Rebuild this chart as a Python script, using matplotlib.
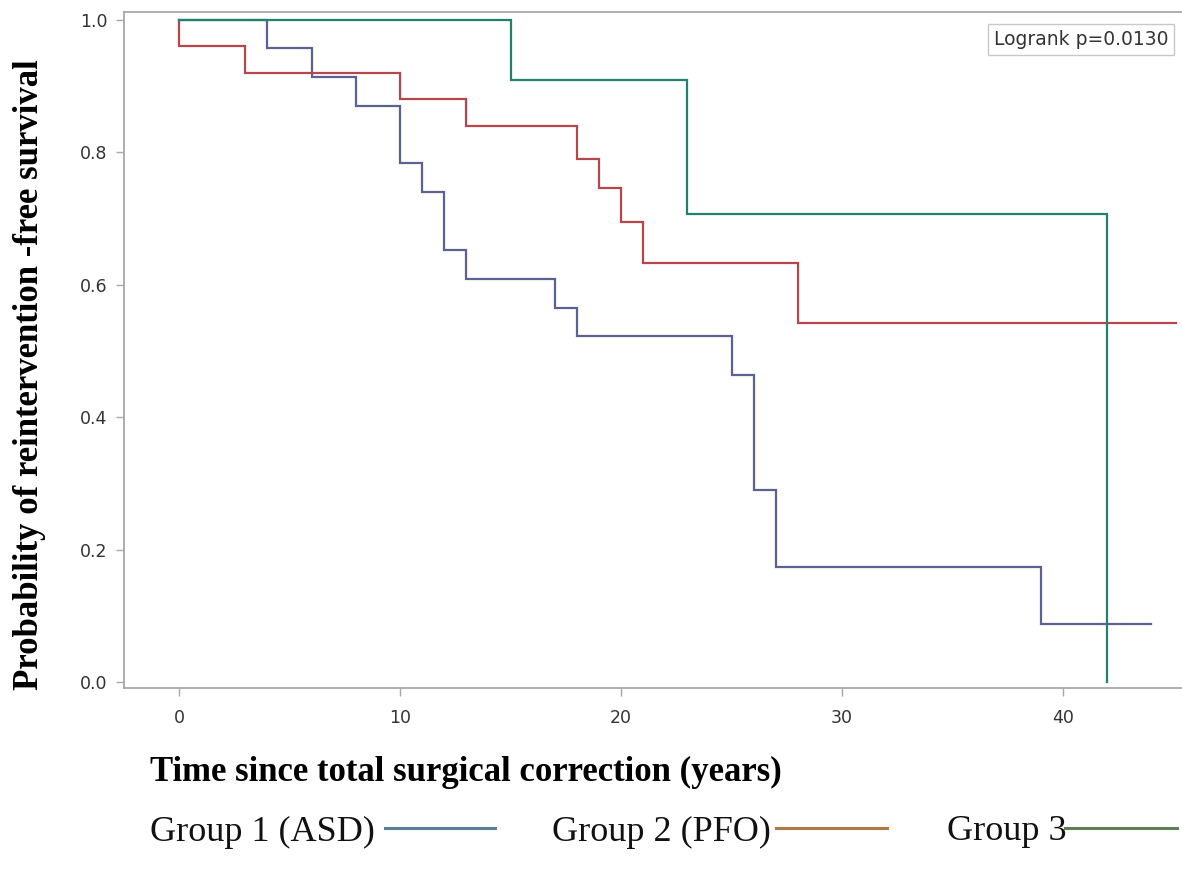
import matplotlib
matplotlib.use("Agg")
import matplotlib.pyplot as plt
from matplotlib.lines import Line2D

# Kaplan-Meier step data (time in years, survival probability)
g1_time = [0, 4, 6, 8, 10, 11, 12, 13, 17, 18, 25, 26, 27, 39, 44]
g1_surv = [1.0, 0.957, 0.913, 0.870, 0.783, 0.739, 0.652, 0.609, 0.565, 0.522, 0.463, 0.290, 0.174, 0.087, 0.087]

g2_time = [0, 0, 3, 10, 13, 18, 19, 20, 21, 28, 45.1]
g2_surv = [1.0, 0.96, 0.92, 0.88, 0.84, 0.79, 0.745, 0.695, 0.632, 0.542, 0.542]

g3_time = [0, 15, 23, 42, 42]
g3_surv = [1.0, 0.909, 0.707, 0.0, 0.0]

x_ticks = [0, 10, 20, 30, 40]
y_ticks = [0.0, 0.2, 0.4, 0.6, 0.8, 1.0]
y_ticklabels = ["0.0", "0.2", "0.4", "0.6", "0.8", "1.0"]

legend_labels = ["Group 1 (ASD)", "Group 2 (PFO)", "Group 3"]
curve_colors = ["#5b6190", "#b5474c", "#23826f"]
legend_line_colors = ["#5f7c98", "#b27a42", "#5c8052"]

fig = plt.figure(figsize=(11.82, 8.76), dpi=100)
ax = fig.add_axes([124 / 1182, 1 - 688 / 876, (1182 - 124) / 1182, (688 - 11.7) / 876])

for t, s, c in zip([g1_time, g2_time, g3_time], [g1_surv, g2_surv, g3_surv], curve_colors):
    ax.step(t, s, where="post", color=c, lw=1.6, solid_joinstyle="miter")

ax.set_xlim(-2.49, 45.38)
ax.set_ylim(-0.009, 1.0118)
ax.set_xticks(x_ticks)
ax.set_yticks(y_ticks)
ax.set_yticklabels(y_ticklabels)

spine_col = "#a8a8a8"
for side in ["left", "bottom", "top"]:
    ax.spines[side].set_color(spine_col)
    ax.spines[side].set_linewidth(1.3)
ax.spines["right"].set_visible(False)

ax.tick_params(axis="both", colors=spine_col, length=6, width=1.0,
               labelcolor="#333333", labelsize=12.5)
ax.tick_params(axis="y", pad=6)
ax.tick_params(axis="x", pad=9)
for lab in ax.get_xticklabels() + ax.get_yticklabels():
    lab.set_fontfamily("DejaVu Sans")

ax.text(0.987, 0.973, "Logrank p=0.0130", transform=ax.transAxes,
        ha="right", va="top", fontsize=13.5, color="#333333", family="DejaVu Sans",
        bbox=dict(boxstyle="square,pad=0.3", fc="white", ec="#c8c8c8", lw=1.0))

fig.text(150 / 1182, 1 - 772 / 876, "Time since total surgical correction (years)",
         ha="left", va="center", fontsize=25, fontweight="bold", family="Liberation Serif")
fig.text(30 / 1182, 1 - 375 / 876, "Probability of reintervention -free survival",
         ha="center", va="center", rotation=90, fontsize=25, fontweight="bold",
         family="Liberation Serif")

# bottom legend
text_x = [150, 552, 947]
line_x = [(385, 495), (776, 887), (1065, 1177)]
leg_y = 1 - 832 / 876
for lab, tx, (x0, x1), lc in zip(legend_labels, text_x, line_x, legend_line_colors):
    fig.text(tx / 1182, leg_y, lab, ha="left", va="center", fontsize=26,
             family="Liberation Serif", color="#111111")
    fig.add_artist(Line2D([x0 / 1182, x1 / 1182], [1 - 828 / 876, 1 - 828 / 876],
                          color=lc, lw=2.2, transform=fig.transFigure))

fig.savefig("out.png", dpi=100, facecolor="white")
